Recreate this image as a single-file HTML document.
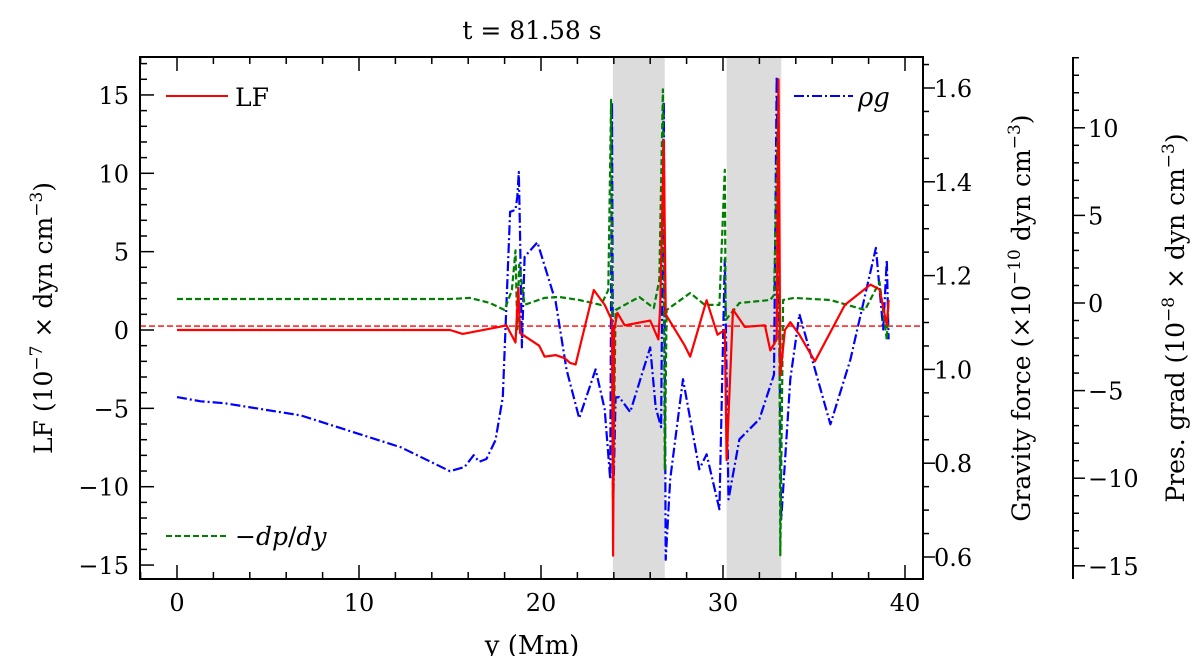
<!DOCTYPE html>
<html><head><meta charset="utf-8"><style>
body{margin:0;background:#fff;width:1200px;height:656px;overflow:hidden}
svg text{font-family:"DejaVu Serif","Liberation Serif",serif;fill:#000}
</style></head><body>
<svg id="chart" width="1200" height="656" viewBox="0 0 1200 656" xmlns="http://www.w3.org/2000/svg"></svg>
<script>
// ---- data ----
const lfX = [0,15,15.7,17.7,18.1,18.6,18.75,18.85,19.9,20.2,20.8,21.3,21.6,21.9,22.9,23.5,23.9,23.96,24.02,24.2,24.6,26.0,26.45,26.55,26.75,26.85,27.9,28.2,29.1,29.7,30.1,30.2,30.55,31.2,32.3,32.6,32.95,33.05,33.15,33.4,33.7,34.2,35.05,36.7,38.1,38.6,39.0,39.1];
const lfY = [0,0,-0.25,0.2,0.3,-0.8,2.7,-0.2,-1.0,-1.7,-1.6,-1.8,-2.1,-2.2,2.55,1.6,0.6,-14.4,0,1.1,0.3,0.6,-0.6,1.5,12.1,1.0,-1.0,-1.7,1.9,-0.3,0,-8.3,1.3,0.2,0.3,-1.3,-0.6,16.0,-2.9,0,0.5,-0.3,-2.0,1.6,2.9,2.6,0.3,1.9];
const rgX = [0,1.3,2.6,6.8,12.3,15,15.8,16.3,16.6,17,17.5,17.9,18.3,18.6,18.7,18.78,18.85,18.95,19.1,19.8,20.8,21.4,22.1,23.0,23.5,23.8,23.9,23.97,24.1,24.3,24.9,26.0,26.3,26.6,26.75,26.85,27.1,27.8,28.7,29.1,29.8,30.1,30.3,30.9,32.0,32.8,32.95,33.2,33.7,34.2,35.9,37.0,38.4,38.8,39.0,39.1];
const rgY = [0.941,0.932,0.928,0.902,0.834,0.783,0.792,0.817,0.803,0.809,0.849,0.941,1.336,1.340,1.368,1.421,1.282,1.047,1.24,1.271,1.145,1.0,0.896,1.0,0.915,0.766,1.57,0.723,0.94,0.941,0.909,1.047,0.919,0.877,1.57,0.594,0.766,0.979,0.787,0.819,0.702,1.235,0.723,0.851,0.894,0.989,1.625,0.68,0.979,1.118,0.883,1.021,1.259,1.085,1.234,1.064];
const dpX = [0,15,16.1,17.2,18.0,18.4,18.6,18.7,18.8,19.1,20.2,21.0,22.1,23.3,23.7,23.85,23.95,24.1,24.6,25.4,26.2,26.5,26.7,26.8,26.9,28.2,29.0,29.8,30.1,30.15,30.9,32.6,32.8,33.05,33.15,33.3,33.9,35.9,37.8,38.6,39.0,39.1];
const dpY = [0.23,0.23,0.29,0,-0.4,0.74,3.0,-1.5,2.2,-0.1,0.29,0.34,0.17,-0.11,0.74,11.6,-11.2,-0.4,-0.11,0.34,-0.29,1.31,12.2,-9.5,-0.4,0.57,-0.11,-0.11,7.6,-0.97,0,0.17,0.46,11.9,-14.4,0.17,0.29,0.17,-0.4,1.2,-2.1,0.17];
const xTicks = [0,10,20,30,40];
const lfTicks = [-15,-10,-5,0,5,10,15];
const gTicks = [0.6,0.8,1.0,1.2,1.4,1.6];
const pTicks = [-15,-10,-5,0,5,10];
const shadeSpans = [[23.95,26.8],[30.2,33.2]];

// ---- scales ----
const L=140,R=923,T=57,B=579;
const sx = v => 177 + (905-177)/40*v;
const syLF = v => 330 - 15.67*v;
const syG = v => 557 - 469*(v-0.6);
const syP = v => 303 - 17.52*v;
const svg = document.getElementById('chart');
const NS='http://www.w3.org/2000/svg';
function mk(tag, attrs, parent){const e=document.createElementNS(NS,tag);for(const k in attrs)e.setAttribute(k,attrs[k]);(parent||svg).appendChild(e);return e;}

shadeSpans.forEach((s,i)=>{
  const r=mk('rect',{x:sx(s[0]),y:T,width:sx(s[1])-sx(s[0]),height:B-T,fill:'#dcdcdc'});
  
  
});

const zl=mk('line',{x1:L,x2:R,y1:syLF(0.25),y2:syLF(0.25),stroke:'#ff0000','stroke-width':1.3,'stroke-dasharray':'6,3'});



function series(xs,ys,sy,color,dash,name){
  const d=xs.map((x,i)=>(i?'L':'M')+sx(x).toFixed(1)+','+sy(ys[i]).toFixed(1)).join('');
  const p=mk('path',{d:d,fill:'none',stroke:color,'stroke-width':2.2,'stroke-dasharray':dash,'stroke-linejoin':'round'});
  
  
}
series(rgX,rgY,syG,'#0000ff','10,3,2,3','rho-g-line');
series(dpX,dpY,syP,'#008000','6,3','dp-dy-line');
series(lfX,lfY,syLF,'#ff0000','','lf-line');

const fr=mk('rect',{x:L,y:T,width:R-L,height:B-T,fill:'none',stroke:'#000','stroke-width':2});



for(let v=-2;v<=41;v+=2){const x=sx(v);if(x<L||x>R)continue;const maj=v%10===0;const len=maj?14:7;
  mk('line',{x1:x,x2:x,y1:B,y2:B-len,stroke:'#000','stroke-width':1.5});
  mk('line',{x1:x,x2:x,y1:T,y2:T+len,stroke:'#000','stroke-width':1.5});}
xTicks.forEach(v=>{const t=mk('text',{x:sx(v),y:611,'text-anchor':'middle','font-size':24});t.textContent=v;
  
  });
for(let v=-15;v<=17;v++){const y=syLF(v);const maj=v%5===0;mk('line',{x1:L,x2:L+(maj?14:7),y1:y,y2:y,stroke:'#000','stroke-width':1.5});}
lfTicks.forEach(v=>{const t=mk('text',{x:129,y:syLF(v)+9,'text-anchor':'end','font-size':24});t.textContent=v<0?'\u2212'+(-v):v;
  
  });
for(let i=0;i<=22;i++){const v=0.55+i*0.05;const y=syG(v);if(y<T||y>B)continue;const maj=Math.abs((v*10)%2)<0.01||Math.abs((v*10)%2-2)<0.01;mk('line',{x1:R,x2:R+(maj?12:6),y1:y,y2:y,stroke:'#000','stroke-width':1.5});}
gTicks.forEach(v=>{const t=mk('text',{x:934,y:syG(v)+9,'font-size':24});t.textContent=v.toFixed(1);
  
  });
const ps=mk('line',{x1:1073,x2:1073,y1:T,y2:B,stroke:'#000','stroke-width':2});


for(let v=-15;v<=14;v++){const y=syP(v);if(y<T||y>B)continue;const maj=v%5===0;mk('line',{x1:1073,x2:1073+(maj?12:6),y1:y,y2:y,stroke:'#000','stroke-width':1.5});}
pTicks.forEach(v=>{const t=mk('text',{x:1088,y:syP(v)+9,'font-size':24});t.textContent=v<0?'\u2212'+(-v):v;
  
  });
</script>
<svg style="position:absolute;left:0;top:0" width="1200" height="656">
  <text x="532" y="39" text-anchor="middle" font-size="25">t = 81.58 s</text>
  <text x="532" y="654" text-anchor="middle" font-size="26">y (Mm)</text>
  <text transform="translate(52,318) rotate(-90)" text-anchor="middle" font-size="25">LF (10<tspan dy="-10" font-size="17">−7</tspan><tspan dy="10"> × dyn cm</tspan><tspan dy="-10" font-size="17">−3</tspan><tspan dy="10">)</tspan></text>
  <text transform="translate(1030,318) rotate(-90)" text-anchor="middle" font-size="25">Gravity force (×10<tspan dy="-10" font-size="17">−10</tspan><tspan dy="10"> dyn cm</tspan><tspan dy="-10" font-size="17">−3</tspan><tspan dy="10">)</tspan></text>
  <text transform="translate(1184,318) rotate(-90)" text-anchor="middle" font-size="25">Pres. grad (10<tspan dy="-10" font-size="17">−8</tspan><tspan dy="10"> × dyn cm</tspan><tspan dy="-10" font-size="17">−3</tspan><tspan dy="10">)</tspan></text>
  <g>
    <line x1="166" x2="228" y1="96" y2="96" stroke="#ff0000" stroke-width="2"/>
    <text x="235" y="106" font-size="25">LF</text>
  </g>
  <g>
    <line x1="794" x2="853" y1="96" y2="96" stroke="#0000ff" stroke-width="2" stroke-dasharray="10,3,2,3"/>
    <text x="858" y="106" font-size="26" font-style="italic">ρg</text>
  </g>
  <g>
    <line x1="166" x2="228" y1="536" y2="536" stroke="#008000" stroke-width="2" stroke-dasharray="6,3"/>
    <text x="235" y="545" font-size="25">−<tspan font-style="italic">dp</tspan>/<tspan font-style="italic">dy</tspan></text>
  </g>
</svg>
</body></html>
